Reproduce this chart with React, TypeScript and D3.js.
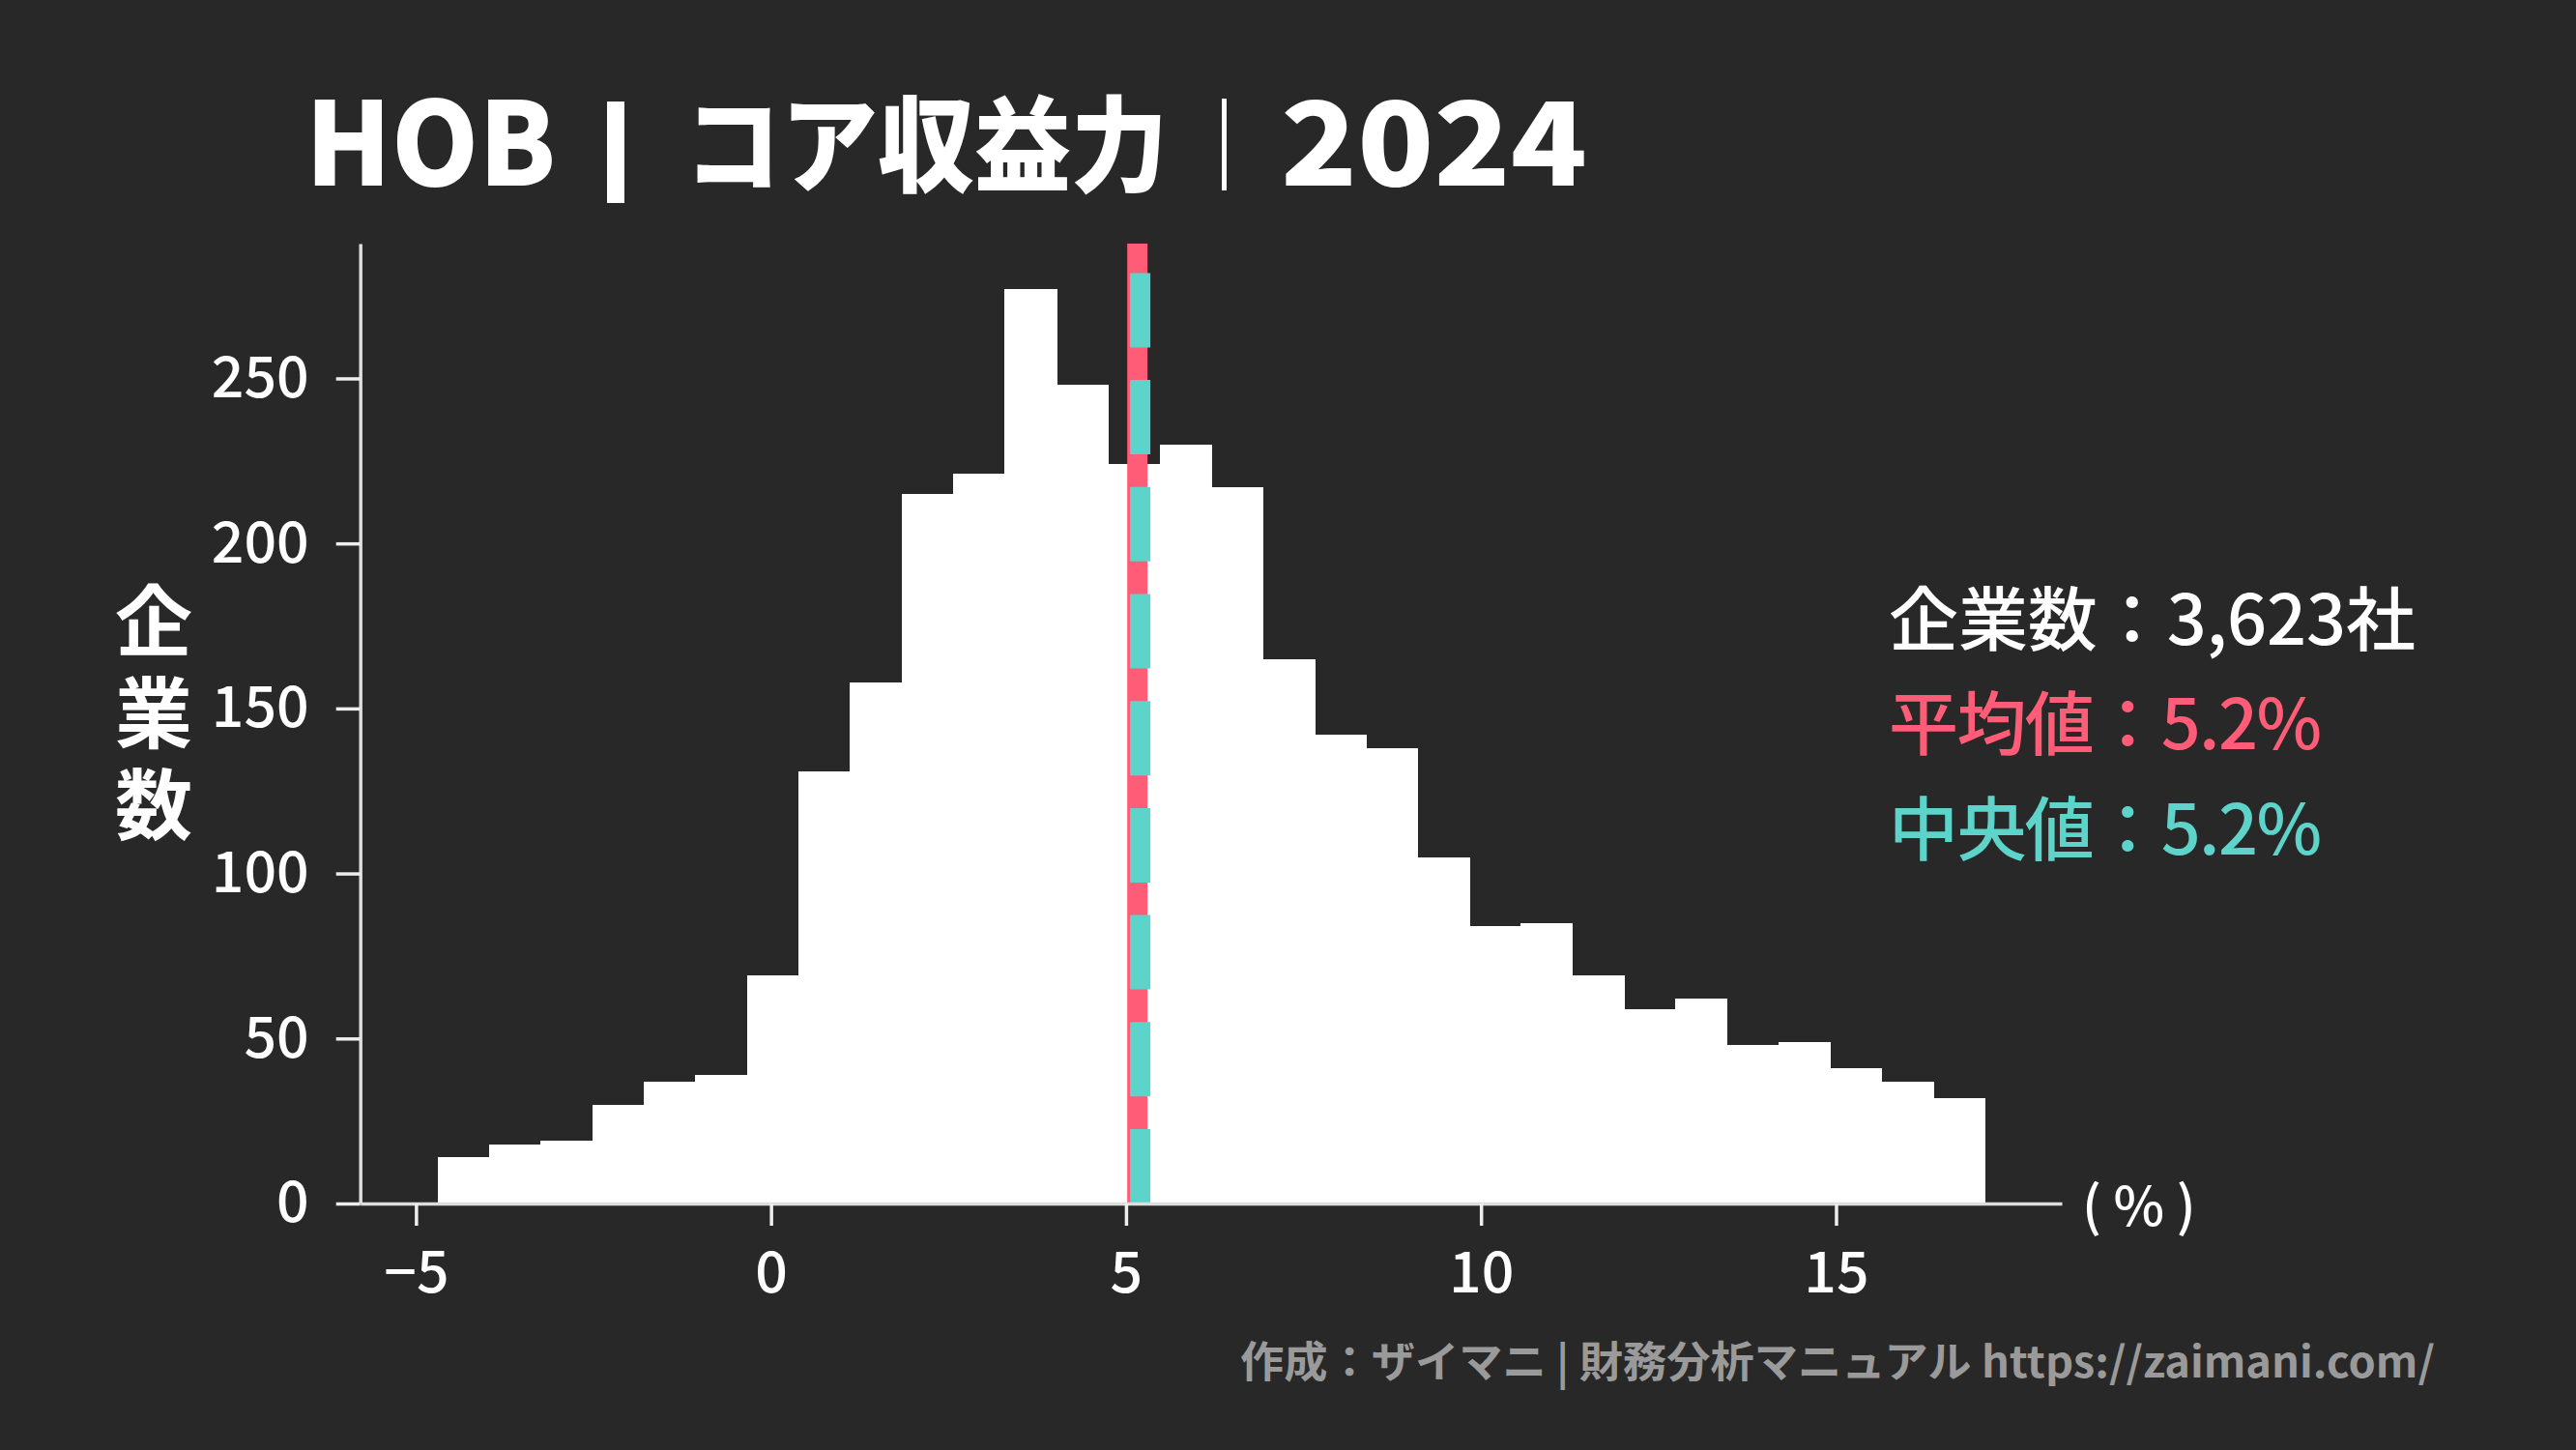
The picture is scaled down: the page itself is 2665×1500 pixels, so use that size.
import { useEffect, useRef } from "react";
import * as d3 from "d3";

// histogram counts per bin (left to right)
const COUNTS = [
  14, 18, 19, 30, 37, 39, 69, 131, 158, 215, 221, 277, 248, 224, 230, 217,
  165, 142, 138, 105, 84, 85, 69, 59, 62, 48, 49, 41, 37, 32,
];
const BIN_START = -4.696;
const BIN_WIDTH = 0.7262;

const X_TICKS = [-5, 0, 5, 10, 15];
const Y_TICKS = [0, 50, 100, 150, 200, 250];

const COMPANY_COUNT = 3623;
const MEAN = 5.16;
const MEDIAN = 5.2;

const TICKER = "HOB";
const METRIC = "コア収益力";
const YEAR = "2024";
const Y_LABEL = "企業数";
const UNIT = "( % )";
const CREDIT = "作成：ザイマニ | 財務分析マニュアル https://zaimani.com/";

const W = 2665;
const H = 1500;
const BG = "#282828";
const RED = "#ff5c77";
const TEAL = "#5ed3c9";
const FONT = '"Noto Sans CJK JP", "Noto Sans", sans-serif';

const LEFT = 372.7;
const RIGHT = 2133;
const TOP = 252;
const BOTTOM = 1245;

const App = () => {
  const gX = useRef<SVGGElement | null>(null);
  const gY = useRef<SVGGElement | null>(null);

  const binEnd = BIN_START + COUNTS.length * BIN_WIDTH;
  const pad = (binEnd - BIN_START) * 0.05;
  const x = d3
    .scaleLinear()
    .domain([BIN_START - pad, binEnd + pad])
    .range([LEFT, RIGHT]);
  const y = d3
    .scaleLinear()
    .domain([0, d3.max(COUNTS)! * 1.05])
    .range([BOTTOM, TOP]);

  useEffect(() => {
    const style = (g: d3.Selection<SVGGElement, unknown, null, undefined>) => {
      g.select(".domain").attr("stroke", "#dddddd").attr("stroke-width", 3.5);
      g.selectAll(".tick line").attr("stroke", "#eeeeee").attr("stroke-width", 3.5);
      g.selectAll(".tick text")
        .attr("fill", "#ffffff")
        .style("font-family", FONT)
        .style("font-size", "59px")
        .style("font-weight", 500);
    };
    if (gX.current) {
      const g = d3.select(gX.current);
      g.call(
        d3
          .axisBottom(x)
          .tickValues(X_TICKS)
          .tickSize(23)
          .tickSizeOuter(0)
          .tickPadding(27),
      );
      style(g);
    }
    if (gY.current) {
      const g = d3.select(gY.current);
      g.call(
        d3
          .axisLeft(y)
          .tickValues(Y_TICKS)
          .tickSize(25)
          .tickSizeOuter(0)
          .tickPadding(28),
      );
      style(g);
    }
  }, [x, y]);

  const fmt = d3.format(",");

  return (
    <svg
      width={W}
      height={H}
      style={{ position: "absolute", left: 0, top: 0, display: "block" }}
      fontFamily={FONT}
    >
      <rect width={W} height={H} fill={BG} />

      {/* title */}
      <g fill="#ffffff" fontWeight={900}>
        <text x={316} y={192} fontSize={120} textLength={259} lengthAdjust="spacingAndGlyphs">
          {TICKER}
        </text>
        <rect x={628} y={105} width={18} height={105} />
        <text x={708} y={190} fontSize={108} textLength={500} lengthAdjust="spacingAndGlyphs">
          {METRIC}
        </text>
        <rect x={1264} y={102} width={5} height={95} />
        <text x={1325} y={192} fontSize={120} textLength={317} lengthAdjust="spacingAndGlyphs">
          {YEAR}
        </text>
      </g>

      {/* bars */}
      <g fill="#ffffff" shapeRendering="crispEdges">
        {COUNTS.map((c, i) => {
          const x0 = x(BIN_START + i * BIN_WIDTH);
          const x1 = x(BIN_START + (i + 1) * BIN_WIDTH);
          return (
            <rect
              key={i}
              x={x0}
              y={y(c)}
              width={x1 - x0 + 1}
              height={y(0) - y(c)}
            />
          );
        })}
      </g>

      {/* mean & median */}
      <line
        x1={x(MEAN)}
        x2={x(MEAN)}
        y1={y.range()[0]}
        y2={y.range()[1]}
        stroke={RED}
        strokeWidth={21}
      />
      <line
        x1={x(MEDIAN)}
        x2={x(MEDIAN)}
        y1={y.range()[0]}
        y2={y.range()[1]}
        stroke={TEAL}
        strokeWidth={21}
        strokeDasharray="77 33.7"
      />

      <g ref={gX} transform={`translate(0,${BOTTOM})`} />
      <g ref={gY} transform={`translate(${LEFT},0)`} />

      {/* y label, stacked vertically */}
      <text
        x={159}
        y={602}
        fill="#ffffff"
        fontSize={80}
        fontWeight={700}
        letterSpacing={15}
        style={{ writingMode: "vertical-rl" }}
      >
        {Y_LABEL}
      </text>

      <text x={2154} y={1268} fill="#ffffff" fontSize={56} fontWeight={500}>
        {UNIT}
      </text>

      {/* stats */}
      <g fontSize={72} fontWeight={500} lengthAdjust="spacingAndGlyphs">
        <text x={1954} y={667} fill="#ffffff" textLength={545}>
          企業数：{fmt(COMPANY_COUNT)}社
        </text>
        <text x={1954} y={775} fill={RED} textLength={448}>
          平均値：{MEAN.toFixed(1)}%
        </text>
        <text x={1954} y={884} fill={TEAL} textLength={448}>
          中央値：{MEDIAN.toFixed(1)}%
        </text>
      </g>

      <text
        x={2519}
        y={1425}
        textAnchor="end"
        fill="#9a9a9a"
        fontSize={44}
        fontWeight={700}
        textLength={1236}
        lengthAdjust="spacingAndGlyphs"
      >
        {CREDIT}
      </text>
    </svg>
  );
};

export default App;
